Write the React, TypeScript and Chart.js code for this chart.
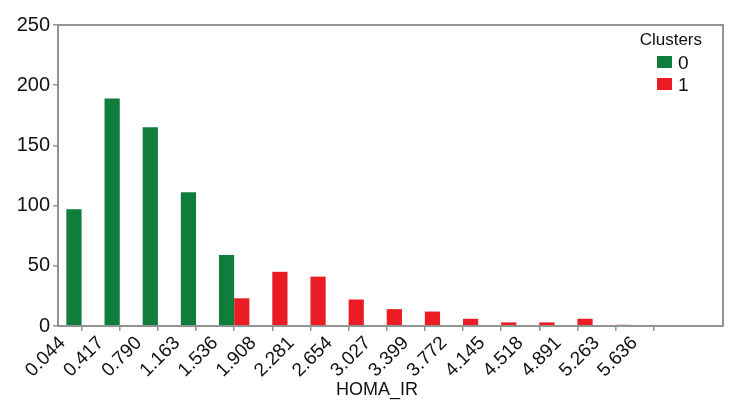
import React, { useEffect, useRef } from "react";
import { Chart, registerables } from "chart.js";

Chart.register(...registerables);

const tickLabels = ["0.044", "0.417", "0.790", "1.163", "1.536", "1.908", "2.281", "2.654", "3.027", "3.399", "3.772", "4.145", "4.518", "4.891", "5.263", "5.636"];
const cluster0 = [97, 189, 165, 111, 59, 0, 0, 0, 0, 0, 0, 0, 0, 0, 0];
const cluster1 = [0, 0, 0, 0, 23, 45, 41, 22, 14, 12, 6, 3, 3, 6, 1];
const seriesNames = ["0", "1"];
const legendTitle = "Clusters";
const xTitle = "HOMA_IR";
const yTicks = [0, 50, 100, 150, 200, 250];

const GREEN = "#0f7d3c";
const RED = "#ec1c24";
const AXIS = "#939393";
const FONT = "'Liberation Sans', Arial, Helvetica, sans-serif";

export default function App() {
  const ref = useRef<HTMLCanvasElement | null>(null);
  useEffect(() => {
    if (!ref.current) return;
    const tickValues = tickLabels.map(Number);
    const centers = tickValues.slice(0, -1).map((v, i) => (v + tickValues[i + 1]) / 2);
    const frame = {
      id: "frame",
      afterDraw(chart: any) {
        const { ctx, chartArea } = chart;
        ctx.save();
        ctx.strokeStyle = AXIS;
        ctx.lineWidth = 2;
        ctx.strokeRect(chartArea.left, chartArea.top, chartArea.right - chartArea.left, chartArea.bottom - chartArea.top);
        // legend
        ctx.fillStyle = "#111";
        ctx.font = `17px ${FONT}`;
        ctx.textAlign = "right";
        ctx.textBaseline = "alphabetic";
        ctx.fillText(legendTitle, 702, 45);
        const colors = [GREEN, RED];
        ctx.font = `19px ${FONT}`;
        seriesNames.forEach((n, i) => {
          const y = 56 + i * 22;
          ctx.fillStyle = colors[i];
          ctx.fillRect(657, y, 15, 12);
          ctx.fillStyle = "#111";
          ctx.textAlign = "left";
          ctx.fillText(n, 678, y + 13);
        });
        // x title
        ctx.font = `18px ${FONT}`;
        ctx.textAlign = "center";
        ctx.fillText(xTitle, 377, 395);
        ctx.restore();
      },
    };
    const chart = new Chart(ref.current, {
      type: "bar",
      data: {
        datasets: [
          { label: seriesNames[0], data: centers.map((x, i) => ({ x, y: cluster0[i] })), backgroundColor: GREEN, borderWidth: 0 },
          { label: seriesNames[1], data: centers.map((x, i) => ({ x, y: cluster1[i] })), backgroundColor: RED, borderWidth: 0 },
        ],
      },
      options: {
        animation: false,
        responsive: false,
        layout: { padding: { left: 0, top: 25, right: 19, bottom: 8 } },
        plugins: { legend: { display: false }, tooltip: { enabled: false } },
        datasets: { bar: { categoryPercentage: 0.8, barPercentage: 1.0 } },
        scales: {
          x: {
            type: "linear",
            min: 0,
            max: 6.5,
            offset: false,
            afterBuildTicks: (scale: any) => {
              scale.ticks = tickValues.map((v) => ({ value: v }));
            },
            afterFit: (scale: any) => {
              scale.height = 78;
            },
            ticks: {
              autoSkip: false,
              minRotation: 45,
              maxRotation: 45,
              padding: 1,
              color: "#111",
              font: { family: FONT, size: 19 },
              callback: (_v: any, i: number) => tickLabels[i],
            },
            grid: { drawOnChartArea: false, drawTicks: true, tickLength: 5, color: AXIS, lineWidth: 1.5 },
            border: { display: false },
          },
          y: {
            min: 0,
            max: 250,
            afterBuildTicks: (scale: any) => {
              scale.ticks = yTicks.map((v) => ({ value: v }));
            },
            afterFit: (scale: any) => {
              scale.width = 58;
            },
            ticks: {
              padding: 3,
              color: "#111",
              font: { family: FONT, size: 20 },
            },
            grid: { drawOnChartArea: false, drawTicks: true, tickLength: 5, color: AXIS, lineWidth: 1.5 },
            border: { display: false },
          },
        },
      },
      plugins: [frame],
    } as any);
    return () => chart.destroy();
  }, []);
  return (
    <div style={{ position: "fixed", left: 0, top: 0, width: 742, height: 412, background: "#fff" }}>
      <canvas ref={ref} width={742} height={412} style={{ display: "block" }} />
    </div>
  );
}
